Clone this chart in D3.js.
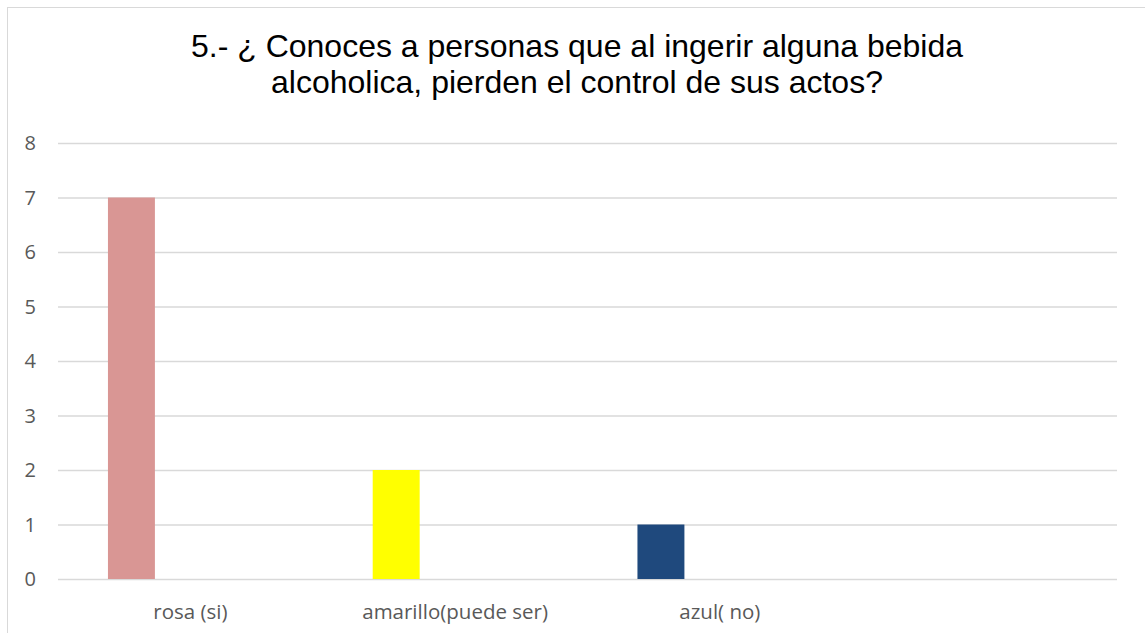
<!DOCTYPE html>
<html>
<head>
<meta charset="utf-8">
<script src="https://cdn.jsdelivr.net/npm/d3@7"></script>
<style>
  body { margin: 0; background: #fff; }
  svg { display: block; }
</style>
</head>
<body>
<div id="chart"></div>
<script>
var categories = ['rosa (si)', 'amarillo(puede ser)', 'azul( no)', '']
var values = [7, 2, 1, null]
var colors = ['#d99694', '#ffff00', '#1f497d', '#fff']
var yTicks = [0, 1, 2, 3, 4, 5, 6, 7, 8]
var titleLines = ['5.- ¿ Conoces a personas que al ingerir alguna bebida',
                  'alcoholica, pierden el control de sus actos?']

var W = 1145, H = 633
var svg = d3.select('#chart').append('svg').attr('width', W).attr('height', H)

// chart frame
svg.append('rect')
  .attr('x', 7.5).attr('y', 7.5)
  .attr('width', W + 20).attr('height', H + 20)
  .attr('fill', '#fff').attr('stroke', '#d9d9d9')

var x = d3.scaleBand().domain(categories.map((d, i) => i)).range([58, 1117])
var y = d3.scaleLinear().domain([0, 8]).range([579, 143])

// gridlines
svg.append('g').selectAll('line').data(yTicks).join('line')
  .attr('x1', 58).attr('x2', 1117)
  .attr('y1', d => y(d) + 0.5).attr('y2', d => y(d) + 0.5)
  .attr('stroke', '#d9d9d9').attr('stroke-width', 1.3)

// y labels
svg.append('g').selectAll('text').data(yTicks).join('text')
  .attr('x', 36).attr('y', d => y(d))
  .attr('dy', '0.36em')
  .attr('text-anchor', 'end')
  .attr('font-family', 'Open Sans, sans-serif')
  .attr('font-size', 20)
  .attr('fill', '#595959')
  .text(d => d)

// bars
var bw = x.bandwidth()
svg.append('g').selectAll('rect').data(values).join('rect')
  .filter(d => d != null)
  .attr('x', (d, i) => x(i) + bw * 50 / 265)
  .attr('width', bw * 47 / 265)
  .attr('y', d => y(d))
  .attr('height', d => y(0) - y(d))
  .attr('fill', (d, i) => colors[i])

// x labels
svg.append('g').selectAll('text').data(categories).join('text')
  .attr('x', (d, i) => x(i) + bw / 2)
  .attr('y', 619)
  .attr('text-anchor', 'middle')
  .attr('font-family', 'Open Sans, sans-serif')
  .attr('font-size', 20.5)
  .attr('fill', '#595959')
  .text(d => d)

// title
svg.append('g').selectAll('text').data(titleLines).join('text')
  .attr('x', 577)
  .attr('y', (d, i) => 57 + i * 36)
  .attr('text-anchor', 'middle')
  .attr('font-family', 'Liberation Sans, Arial, sans-serif')
  .attr('font-size', 32)
  .attr('fill', '#000')
  .text(d => d)
</script>
</body>
</html>
